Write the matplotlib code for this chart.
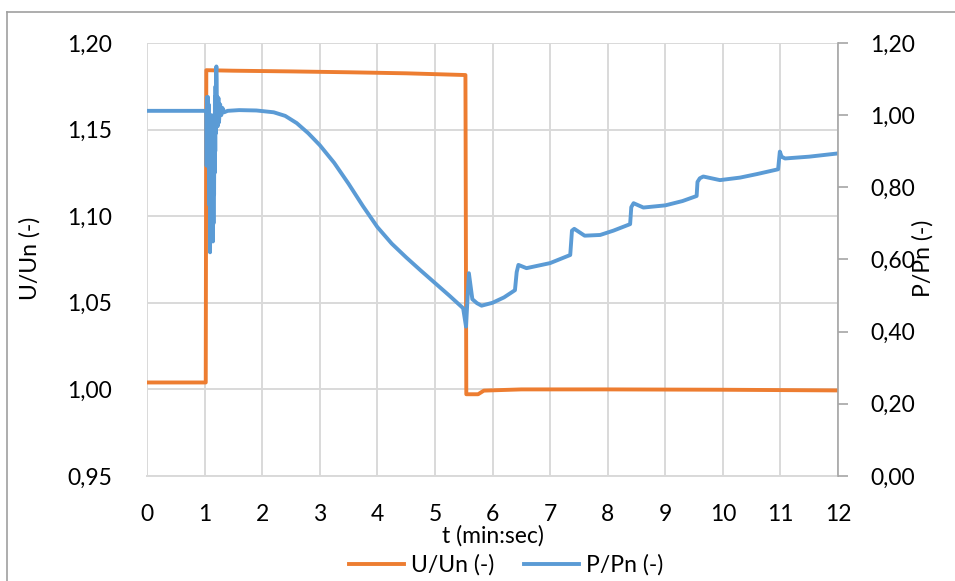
import matplotlib.pyplot as plt
from matplotlib.lines import Line2D
from matplotlib.ticker import FuncFormatter, MultipleLocator

plt.rcParams['font.family'] = ['Lato', 'DejaVu Sans']

# U/Un (left axis)
t_u = [0.0, 1.02, 1.03, 1.5, 2.5, 3.5, 4.5, 5.53, 5.545, 5.75, 5.85, 6.5, 8.0, 10.0, 12.0]
u_un = [1.004, 1.004, 1.1843, 1.1840, 1.1836, 1.1831, 1.1825, 1.1815, 0.9972, 0.9972,
        0.9993, 1.0000, 1.0000, 0.9998, 0.9994]

# P/Pn (right axis)
t_p = [0.0, 0.5, 1.0, 1.03,
       1.035, 1.04, 1.045, 1.05, 1.055, 1.06, 1.065, 1.07, 1.075, 1.08, 1.085, 1.09,
       1.095, 1.1, 1.105, 1.11, 1.115, 1.12, 1.125, 1.13, 1.135, 1.14, 1.145, 1.15,
       1.155, 1.16, 1.165, 1.17, 1.175, 1.18, 1.185, 1.19, 1.195, 1.2, 1.205, 1.21,
       1.215, 1.22, 1.23, 1.24, 1.25, 1.27, 1.29, 1.31, 1.34, 1.4,
       1.6, 1.9, 2.2, 2.4, 2.6, 2.8, 3.0, 3.25, 3.5, 3.75, 4.0, 4.25, 4.5, 4.75, 5.0, 5.25,
       5.49, 5.54, 5.59, 5.65, 5.73, 5.81, 6.0, 6.2, 6.39, 6.42, 6.45, 6.59, 7.0, 7.35,
       7.38, 7.42, 7.6, 7.87, 8.1, 8.39, 8.41, 8.45, 8.62, 9.0, 9.3, 9.545, 9.56, 9.6,
       9.66, 9.95, 10.3, 10.6, 10.96, 10.99, 11.02, 11.08, 11.5, 12.0]
p_pn = [1.012, 1.012, 1.012, 1.012,
        0.86, 1.05, 0.87, 1.04, 0.88, 1.05, 0.86, 1.03, 0.85, 0.99, 0.75, 0.98,
        0.62, 0.96, 0.66, 0.97, 0.70, 1.00, 0.68, 0.99, 0.66, 0.95, 0.65, 0.90,
        0.70, 0.92, 0.78, 1.00, 0.84, 1.05, 0.90, 1.08, 0.95, 1.12, 1.135, 1.10,
        0.97, 1.05, 0.97, 1.048, 0.98, 1.03, 1.00, 1.02, 1.008, 1.012,
        1.014, 1.013, 1.008, 0.998, 0.978, 0.950, 0.917, 0.868, 0.810, 0.748, 0.690, 0.644, 0.606, 0.570, 0.535, 0.500,
        0.465, 0.414, 0.562, 0.49, 0.479, 0.472, 0.48, 0.495, 0.515, 0.565, 0.585, 0.576, 0.59, 0.6125,
        0.68, 0.685, 0.666, 0.668, 0.68, 0.698, 0.745, 0.756, 0.744, 0.75, 0.762, 0.776, 0.815, 0.825,
        0.83, 0.82, 0.827, 0.837, 0.85, 0.899, 0.885, 0.88, 0.885, 0.894]

orange = '#ED7D31'
blue = '#5B9BD5'
grid_c = '#D9D9D9'
fs = 16.5

fig = plt.figure(figsize=(9.55, 5.81), dpi=100)
ax = fig.add_axes([147 / 955, 1 - 476 / 581, (838 - 147) / 955, (476 - 43) / 581])
ax2 = ax.twinx()

ax.plot(t_u, u_un, color=orange, lw=2.8, solid_joinstyle='round', label='U/Un (-)')
ax2.plot(t_p, p_pn, color=blue, lw=2.8, solid_joinstyle='round', label='P/Pn (-)')

ax.set_xlim(0, 12)
ax.set_ylim(0.95, 1.20)
ax2.set_ylim(0, 1.20)
ax.xaxis.set_major_locator(MultipleLocator(1))
ax.yaxis.set_major_locator(MultipleLocator(0.05))
ax2.yaxis.set_major_locator(MultipleLocator(0.2))
comma = FuncFormatter(lambda v, p: f'{v:.2f}'.replace('.', ','))
ax.yaxis.set_major_formatter(comma)
ax2.yaxis.set_major_formatter(comma)

ax.grid(True, color=grid_c, lw=1.4)
ax.set_axisbelow(True)
for s in ['top', 'right', 'left']:
    ax.spines[s].set_visible(False)
ax.spines['bottom'].set_color(grid_c)
ax.spines['bottom'].set_linewidth(1.4)
for s in ['top', 'left', 'bottom']:
    ax2.spines[s].set_visible(False)
ax2.spines['right'].set_color('#A6A6A6')
ax2.spines['right'].set_linewidth(1.2)

ax.tick_params(axis='x', length=0, pad=20, labelsize=fs)
ax.tick_params(axis='y', length=0, pad=25, labelsize=fs)
ax2.tick_params(axis='y', length=7, width=1.2, color='#A6A6A6', pad=16, labelsize=fs)

ax.set_xlabel('t (min:sec)', fontsize=fs, labelpad=0)
ax.set_ylabel('U/Un (-)', fontsize=fs)
ax.yaxis.set_label_coords(41 / 955, 1 - 258 / 581, transform=fig.transFigure)
ax2.set_ylabel('P/Pn (-)', fontsize=fs)
ax2.yaxis.set_label_coords(912 / 955, 1 - 258 / 581, transform=fig.transFigure)

h1, l1 = ax.get_legend_handles_labels()
h2, l2 = ax2.get_legend_handles_labels()
fig.legend(h1 + h2, l1 + l2, ncol=2, loc='center', bbox_to_anchor=(506 / 955, 1 - 565 / 581),
           frameon=False, fontsize=fs, handlelength=2.4, columnspacing=1.3, handletextpad=0.3)

# outer chart border (cropped at right and bottom)
fig.add_artist(Line2D([7 / 955, 7 / 955], [0, 1 - 12 / 581], color='#A0A0A0', lw=1.2))
fig.add_artist(Line2D([7 / 955, 1], [1 - 12 / 581, 1 - 12 / 581], color='#A0A0A0', lw=1.2))

fig.savefig('out.png', dpi=100)
